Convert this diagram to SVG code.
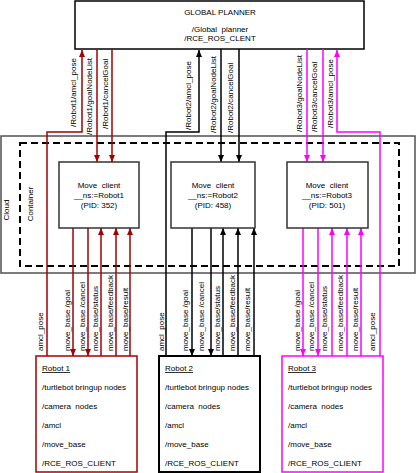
<svg xmlns="http://www.w3.org/2000/svg" width="416" height="473" viewBox="0 0 416 473">
<defs>
<style>
.t{font-family:"Liberation Sans",Arial,sans-serif;font-size:8px;fill:#000}
.c{text-anchor:middle}
.box{fill:#fff;stroke:#000;stroke-width:1.5}
.mc{fill:#fff;stroke:#333;stroke-width:1.5}
.r1{stroke:#a50000;stroke-width:1.5;fill:none}
.r2{stroke:#000;stroke-width:1.5;fill:none}
.r3{stroke:#ff00ff;stroke-width:1.5;fill:none}
.a1{marker-end:url(#m1)}
.a2{marker-end:url(#m2)}
.a3{marker-end:url(#m3)}
</style>
<marker id="m1" viewBox="0 0 7 6" refX="7" refY="3" markerWidth="7" markerHeight="6" markerUnits="userSpaceOnUse" orient="auto"><path d="M0,0 L7,3 L0,6 z" fill="#a50000"/></marker>
<marker id="m2" viewBox="0 0 7 6" refX="7" refY="3" markerWidth="7" markerHeight="6" markerUnits="userSpaceOnUse" orient="auto"><path d="M0,0 L7,3 L0,6 z" fill="#000"/></marker>
<marker id="m3" viewBox="0 0 7 6" refX="7" refY="3" markerWidth="7" markerHeight="6" markerUnits="userSpaceOnUse" orient="auto"><path d="M0,0 L7,3 L0,6 z" fill="#ff00ff"/></marker>
</defs>
<rect width="416" height="473" fill="#fff"/>

<g id="cloud">
<rect x="1" y="136" width="414" height="137" fill="none" stroke="#505050" stroke-width="1.5"/>
<text class="t c" transform="rotate(-90 9 210)" x="9" y="210">Cloud</text>
</g>
<g id="container">
<rect x="20" y="143" width="379" height="123" fill="none" stroke="#000" stroke-width="2" stroke-dasharray="7 4"/>
<text class="t c" transform="rotate(-90 33 204)" x="33" y="204">Container</text>
</g>

<g id="global-planner">
<rect class="box" x="75" y="1" width="289" height="48"/>
<text class="t c" x="220" y="15">GLOBAL PLANNER</text>
<text class="t c" x="220" y="32">/Global&#160; planner</text>
<text class="t c" x="220" y="41">/RCE_ROS_CLENT</text>
</g>

<g id="connectors">
<!-- Robot 1 -->
<path class="r1 a1" d="M47,356 V132 H82 V50"/>
<path class="r1 a1" d="M97,49 V162"/>
<path class="r1 a1" d="M112,49 V162"/>
<path class="r1 a1" d="M73,228 V356"/>
<path class="r1 a1" d="M88,228 V356"/>
<path class="r1 a1" d="M101,356 V228"/>
<path class="r1 a1" d="M116,356 V228"/>
<path class="r1 a1" d="M130,356 V228"/>
<!-- Robot 2 -->
<path class="r2 a2" d="M166,356 V132 H199 V50"/>
<path class="r2 a2" d="M221,49 V162"/>
<path class="r2 a2" d="M239,49 V162"/>
<path class="r2 a2" d="M192,228 V356"/>
<path class="r2 a2" d="M211,228 V356"/>
<path class="r2 a2" d="M223,356 V228"/>
<path class="r2 a2" d="M238,356 V228"/>
<path class="r2 a2" d="M254,356 V228"/>
<!-- Robot 3 -->
<path class="r3 a3" d="M380,356 V132 H337 V50"/>
<path class="r3 a3" d="M307,49 V162"/>
<path class="r3 a3" d="M323,49 V162"/>
<path class="r3 a3" d="M303,228 V356"/>
<path class="r3 a3" d="M318,228 V356"/>
<path class="r3 a3" d="M332,356 V228"/>
<path class="r3 a3" d="M347,356 V228"/>
<path class="r3 a3" d="M361,356 V228"/>

<!-- top labels -->
<text class="t" transform="rotate(-90 76 127)" x="76" y="127">/Robot1/amcl_pose</text>
<text class="t" transform="rotate(-90 92 135)" x="92" y="135">/Robot1/goalNodeList</text>
<text class="t" transform="rotate(-90 108 129)" x="108" y="129">/Robot1/cancelGoal</text>
<text class="t" transform="rotate(-90 191 130)" x="191" y="130">/Robot2/amcl_pose</text>
<text class="t" transform="rotate(-90 216 133)" x="216" y="133">/Robot2/goalNodeList</text>
<text class="t" transform="rotate(-90 233 133)" x="233" y="133">/Robot2/cancelGoal</text>
<text class="t" transform="rotate(-90 302 132)" x="302" y="132">/Robot3/goalNodeList</text>
<text class="t" transform="rotate(-90 317 132)" x="317" y="132">/Robot3/cancelGoal</text>
<text class="t" transform="rotate(-90 333 128)" x="333" y="128">/Robot3/amcl_pose</text>

<!-- bottom labels -->
<text class="t" transform="rotate(-90 43 351)" x="43" y="351">amcl_pose</text>
<text class="t" transform="rotate(-90 70 351)" x="70" y="351">move_base /goal</text>
<text class="t" transform="rotate(-90 85 351)" x="85" y="351">move_base /cancel</text>
<text class="t" transform="rotate(-90 98 351)" x="98" y="351">move_base/status</text>
<text class="t" transform="rotate(-90 113 351)" x="113" y="351">move_base/feedback</text>
<text class="t" transform="rotate(-90 128 351)" x="128" y="351">move_base/result</text>

<text class="t" transform="rotate(-90 164 351)" x="164" y="351">amcl_pose</text>
<text class="t" transform="rotate(-90 188 351)" x="188" y="351">move_base /goal</text>
<text class="t" transform="rotate(-90 204 351)" x="204" y="351">move_base /cancel</text>
<text class="t" transform="rotate(-90 220 351)" x="220" y="351">move_base/status</text>
<text class="t" transform="rotate(-90 235 351)" x="235" y="351">move_base/feedback</text>
<text class="t" transform="rotate(-90 250 351)" x="250" y="351">move_base/result</text>

<text class="t" transform="rotate(-90 300 351)" x="300" y="351">move_base /goal</text>
<text class="t" transform="rotate(-90 314 351)" x="314" y="351">move_base /cancel</text>
<text class="t" transform="rotate(-90 327 351)" x="327" y="351">move_base/status</text>
<text class="t" transform="rotate(-90 343 351)" x="343" y="351">move_base/feedback</text>
<text class="t" transform="rotate(-90 358 351)" x="358" y="351">move_base/result</text>
<text class="t" transform="rotate(-90 375 351)" x="375" y="351">amcl_pose</text>
</g>

<g id="move-client-1">
<rect class="mc" x="59" y="162" width="80" height="66"/>
<text class="t c" x="99" y="188">Move&#160; client</text>
<text class="t c" x="99" y="198">__ns:=Robot1</text>
<text class="t c" x="99" y="208">(PID: 352)</text>
</g>
<g id="move-client-2">
<rect class="mc" x="171" y="162" width="84" height="66"/>
<text class="t c" x="213" y="188">Move&#160; client</text>
<text class="t c" x="213" y="198">__ns:=Robot2</text>
<text class="t c" x="213" y="208">(PID: 458)</text>
</g>
<g id="move-client-3">
<rect class="mc" x="287" y="162" width="81" height="66"/>
<text class="t c" x="327" y="188">Move&#160; client</text>
<text class="t c" x="327" y="198">__ns:=Robot3</text>
<text class="t c" x="327" y="208">(PID: 501)</text>
</g>

<g id="robot-1">
<rect x="36" y="356" width="101" height="116" fill="#fff" stroke="#a50000" stroke-width="1.5"/>
<text class="t" x="42" y="371" text-decoration="underline">Robot 1</text>
<text class="t" x="42" y="390">/turtlebot bringup nodes</text>
<text class="t" x="42" y="409">/camera&#160; nodes</text>
<text class="t" x="42" y="428">/amcl</text>
<text class="t" x="42" y="447">/move_base</text>
<text class="t" x="42" y="466">/RCE_ROS_CLIENT</text>
</g>
<g id="robot-2">
<rect x="159" y="356" width="101" height="116" fill="#fff" stroke="#000" stroke-width="2"/>
<text class="t" x="165" y="371" text-decoration="underline">Robot 2</text>
<text class="t" x="165" y="390">/turtlebot bringup nodes</text>
<text class="t" x="165" y="409">/camera&#160; nodes</text>
<text class="t" x="165" y="428">/amcl</text>
<text class="t" x="165" y="447">/move_base</text>
<text class="t" x="165" y="466">/RCE_ROS_CLIENT</text>
</g>
<g id="robot-3">
<rect x="282" y="356" width="101" height="116" fill="#fff" stroke="#ff00ff" stroke-width="1.5"/>
<text class="t" x="288" y="371" text-decoration="underline">Robot 3</text>
<text class="t" x="288" y="390">/turtlebot bringup nodes</text>
<text class="t" x="288" y="409">/camera&#160; nodes</text>
<text class="t" x="288" y="428">/amcl</text>
<text class="t" x="288" y="447">/move_base</text>
<text class="t" x="288" y="466">/RCE_ROS_CLIENT</text>
</g>
</svg>
